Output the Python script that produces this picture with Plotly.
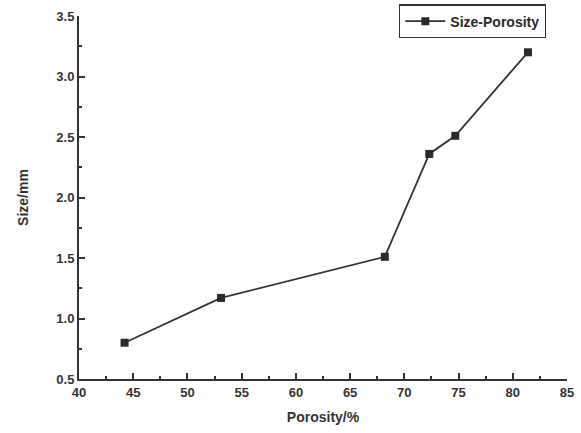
import plotly.graph_objects as go

porosity = [44.2, 53.1, 68.2, 72.3, 74.7, 81.4]
size_mm = [0.80, 1.17, 1.51, 2.36, 2.51, 3.20]
series_name = "Size-Porosity"

fig = go.Figure()
fig.add_trace(go.Scatter(
    x=porosity, y=size_mm, mode="lines+markers", name=series_name,
    line=dict(color="#333333", width=1.8),
    marker=dict(symbol="square", size=8, color="#2a2a2a"),
))

font_family = "Liberation Sans, Arial, sans-serif"
fig.update_layout(
    width=581, height=433,
    margin=dict(l=79, r=14, t=16, b=54, autoexpand=False),
    paper_bgcolor="white", plot_bgcolor="white",
    font=dict(family=font_family, color="#333333"),
    showlegend=True,
    legend=dict(
        xref="container", yref="container",
        x=0.94, y=0.99, xanchor="right", yanchor="top",
        bordercolor="#333333", borderwidth=1.2, bgcolor="white",
        font=dict(size=14, color="#2a2a2a", weight="bold"),
        itemwidth=40, tracegroupgap=0,
    ),
    xaxis=dict(
        range=[40, 85], dtick=5, tick0=40, automargin=False,
        showgrid=False, zeroline=False,
        showline=True, linecolor="#333333", linewidth=2,
        ticks="inside", ticklen=6, tickwidth=1.5, tickcolor="#333333",
        minor=dict(ticks="inside", dtick=2.5, ticklen=3, tickcolor="#333333", tickwidth=1.5),
        tickfont=dict(size=13, family=font_family, color="#333333", weight="bold"),
        title=dict(text="<b>Porosity/%</b>", font=dict(size=14, color="#333333"), standoff=14),
    ),
    yaxis=dict(
        range=[0.5, 3.5], dtick=0.5, tick0=0.5, tickformat=".1f", automargin=False,
        showgrid=False, zeroline=False,
        showline=True, linecolor="#333333", linewidth=2,
        ticks="inside", ticklen=6, tickwidth=1.5, tickcolor="#333333",
        minor=dict(ticks="inside", dtick=0.25, ticklen=3, tickcolor="#333333", tickwidth=1.5),
        tickfont=dict(size=13, family=font_family, color="#333333", weight="bold"),
        title=dict(text="<b>Size/mm</b>", font=dict(size=14, color="#333333"), standoff=24),
    ),
)

fig.write_html("out.html", config={"displayModeBar": False},
               post_script="document.body.style.margin='0';document.body.style.overflow='hidden';")
